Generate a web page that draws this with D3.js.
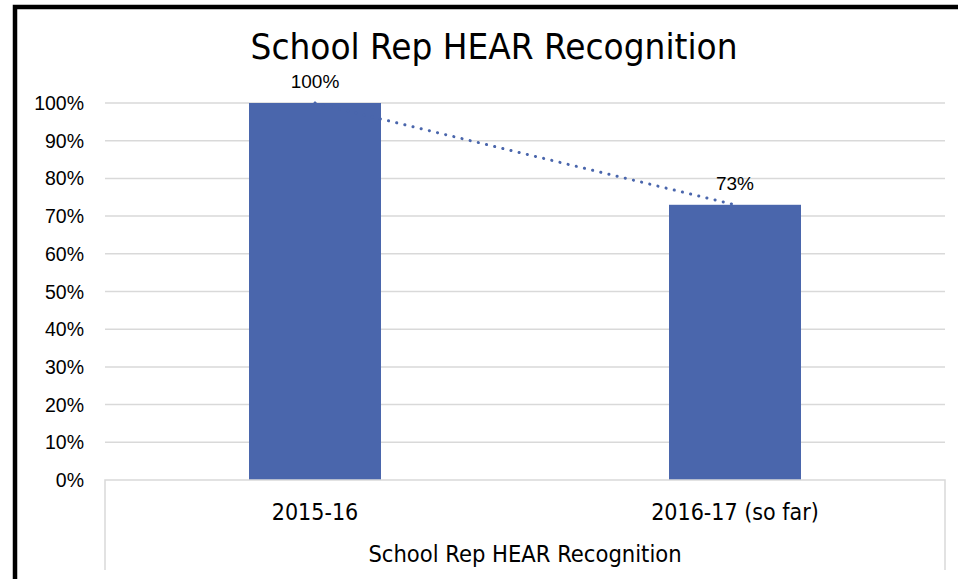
<!DOCTYPE html>
<html>
<head>
<meta charset="utf-8">
<script src="https://cdn.jsdelivr.net/npm/d3@7"></script>
<style>
  html, body { margin: 0; padding: 0; background: #fff; }
  svg { display: block; }
</style>
</head>
<body>
<div id="chart"></div>
<script>
var categories = ["2015-16", "2016-17 (so far)"];
var values = [1.00, 0.73];
var yTicks = [0, 0.1, 0.2, 0.3, 0.4, 0.5, 0.6, 0.7, 0.8, 0.9, 1.0];

(function () {
  var width = 958, height = 579;
  var barColor = "#4a66ac";
  var narrow = "'DejaVu Sans Condensed', 'Liberation Sans Narrow', sans-serif";

  var svg = d3.select("#chart").append("svg")
    .attr("width", width).attr("height", height);

  // outer frame (only top and left edges visible)
  svg.append("path")
    .attr("d", "M15,579 V7 H958")
    .attr("fill", "none")
    .attr("stroke", "#000")
    .attr("stroke-width", 4.5);

  var band = d3.scaleBand().domain(categories).range([105, 945]);
  var y = d3.scaleLinear().domain([0, 1]).range([480, 103]);
  var cx = function (i) { return band(categories[i]) + band.bandwidth() / 2; };

  // gridlines
  svg.append("g").selectAll("line")
    .data(yTicks.filter(function (t) { return t > 0; }))
    .enter().append("line")
    .attr("x1", 105).attr("x2", 945)
    .attr("y1", function (d) { return y(d); })
    .attr("y2", function (d) { return y(d); })
    .attr("stroke", "#d9d9d9").attr("stroke-width", 1.5);

  // y tick labels
  svg.append("g").selectAll("text")
    .data(yTicks).enter().append("text")
    .attr("x", 84)
    .attr("y", function (d) { return y(d) + 7; })
    .attr("text-anchor", "end")
    .attr("font-family", "'Liberation Sans', Arial, sans-serif")
    .attr("font-size", "19.5px")
    .attr("fill", "#000")
    .text(d3.format(".0%"));

  // bars
  svg.append("g").selectAll("rect")
    .data(values).enter().append("rect")
    .attr("x", function (d, i) { return cx(i) - 66; })
    .attr("width", 132)
    .attr("y", function (d) { return y(d); })
    .attr("height", function (d) { return y(0) - y(d); })
    .attr("fill", barColor);

  // linear trendline (least squares over category index)
  var n = values.length;
  var xs = d3.range(n).map(function (i) { return i + 1; });
  var mx = d3.mean(xs), my = d3.mean(values);
  var slope = d3.sum(xs, function (v, i) { return (v - mx) * (values[i] - my); }) /
              d3.sum(xs, function (v) { return (v - mx) * (v - mx); });
  var icpt = my - slope * mx;
  svg.append("line")
    .attr("x1", cx(0)).attr("y1", y(icpt + slope * 1))
    .attr("x2", cx(n - 1)).attr("y2", y(icpt + slope * n))
    .attr("stroke", barColor)
    .attr("stroke-width", 3)
    .attr("stroke-linecap", "round")
    .attr("stroke-dasharray", "0.1 8.3");

  // category axis box
  svg.append("path")
    .attr("d", "M105,570 V480 H945 V570")
    .attr("fill", "none")
    .attr("stroke", "#d9d9d9").attr("stroke-width", 1.5);

  // data labels
  svg.append("g").selectAll("text")
    .data(values).enter().append("text")
    .attr("x", function (d, i) { return cx(i); })
    .attr("y", function (d) { return y(d) - 15; })
    .attr("text-anchor", "middle")
    .attr("font-family", "'Liberation Sans', Arial, sans-serif")
    .attr("font-size", "19px")
    .attr("fill", "#000")
    .text(d3.format(".0%"));

  // category labels
  svg.append("g").selectAll("text")
    .data(categories).enter().append("text")
    .attr("x", function (d, i) { return cx(i); })
    .attr("y", 520)
    .attr("text-anchor", "middle")
    .attr("font-family", narrow)
    .attr("font-size", "23px")
    .attr("fill", "#000")
    .text(function (d) { return d; });

  // axis group label
  svg.append("text")
    .attr("x", 525).attr("y", 562)
    .attr("text-anchor", "middle")
    .attr("font-family", narrow)
    .attr("font-size", "23.5px")
    .attr("fill", "#000")
    .text("School Rep HEAR Recognition");

  // title
  svg.append("text")
    .attr("x", 494).attr("y", 59)
    .attr("text-anchor", "middle")
    .attr("font-family", narrow)
    .attr("font-size", "35px")
    .attr("textLength", 487)
    .attr("lengthAdjust", "spacingAndGlyphs")
    .attr("fill", "#000")
    .text("School Rep HEAR Recognition");
})();
</script>
</body>
</html>
